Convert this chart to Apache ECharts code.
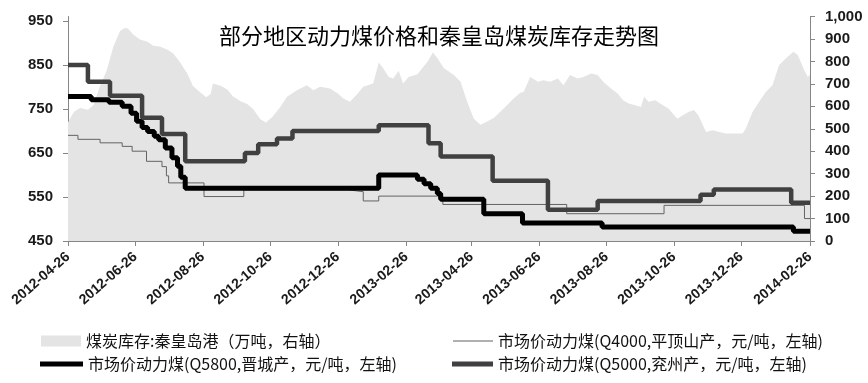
<!DOCTYPE html>
<html><head><meta charset="utf-8">
<script src="https://cdn.jsdelivr.net/npm/echarts@6/dist/echarts.min.js"></script>
<style>html,body{margin:0;padding:0;background:#fff}#c{width:868px;height:383px}</style>
</head><body><div id="c"></div>
<script>
const chartTitle = '部分地区动力煤价格和秦皇岛煤炭库存走势图';
const nameStock = '煤炭库存:秦皇岛港（万吨，右轴）';
const nameQ4000 = '市场价动力煤(Q4000,平顶山产，元/吨，左轴)';
const nameQ5800 = '市场价动力煤(Q5800,晋城产，元/吨，左轴)';
const nameQ5000 = '市场价动力煤(Q5000,兖州产，元/吨，左轴)';

const xTickDates = ['2012-04-26','2012-06-26','2012-08-26','2012-10-26','2012-12-26','2013-02-26',
  '2013-04-26','2013-06-26','2013-08-26','2013-10-26','2013-12-26','2014-02-26'];
const leftTicks = [450, 550, 650, 750, 850, 950];
const rightTicks = [0,100,200,300,400,500,600,700,800,900,1000];

const stockDates = ['2012-04-26','2012-04-30','2012-05-02','2012-05-07','2012-05-14','2012-05-19','2012-05-25','2012-05-31',
 '2012-06-06','2012-06-12','2012-06-16','2012-06-19','2012-06-24','2012-06-30','2012-07-07','2012-07-12','2012-07-18',
 '2012-07-25','2012-07-30','2012-08-05','2012-08-12','2012-08-17','2012-08-24','2012-08-29','2012-09-02','2012-09-04',
 '2012-09-11','2012-09-17','2012-09-22','2012-09-29','2012-10-05','2012-10-10','2012-10-17','2012-10-22','2012-10-28',
 '2012-11-04','2012-11-10','2012-11-19','2012-11-28','2012-12-04','2012-12-10','2012-12-19','2012-12-26','2012-12-31',
 '2013-01-06','2013-01-13','2013-01-18','2013-01-27','2013-02-01','2013-02-05','2013-02-10','2013-02-14','2013-02-19',
 '2013-02-23','2013-02-28','2013-03-08','2013-03-17','2013-03-22','2013-03-26','2013-04-01','2013-04-10','2013-04-16',
 '2013-04-22','2013-04-28','2013-05-04','2013-05-10','2013-05-16','2013-05-25','2013-06-03','2013-06-09','2013-06-12',
 '2013-06-18','2013-06-25','2013-06-30','2013-07-06','2013-07-13','2013-07-18','2013-07-24','2013-07-31','2013-08-05',
 '2013-08-12','2013-08-18','2013-08-23','2013-08-30','2013-09-05','2013-09-10','2013-09-15','2013-09-21','2013-09-26',
 '2013-09-29','2013-10-03','2013-10-09','2013-10-16','2013-10-21','2013-10-29','2013-11-03','2013-11-08','2013-11-13',
 '2013-11-17','2013-11-24','2013-11-30','2013-12-06','2013-12-12','2013-12-27','2013-12-30','2014-01-05','2014-01-11',
 '2014-01-17','2014-01-23','2014-01-29','2014-02-04','2014-02-11','2014-02-15','2014-02-20','2014-02-24','2014-02-26'];
const stockValues = [528,565,578,592,585,605,690,760,
 865,935,948,948,920,898,888,870,866,
 852,836,798,745,690,660,640,655,702,
 692,675,645,622,610,590,542,528,553,
 597,642,672,694,672,687,679,657,635,
 620,657,687,702,795,769,731,724,758,
 702,731,743,798,840,815,769,739,709,
 620,545,518,532,548,590,635,660,664,
 731,709,716,709,724,694,739,724,731,
 746,739,709,679,657,627,612,605,597,
 642,620,627,605,590,545,560,575,583,
 560,486,493,486,479,479,501,575,620,
 664,694,783,813,843,828,769,731,740];

const q4000Dates = ['2012-04-26','2012-05-05','2012-05-25','2012-06-14','2012-06-23','2012-07-06','2012-07-20','2012-07-24',
 '2012-07-26','2012-08-27','2012-10-02','2013-01-05','2013-01-18','2013-02-01','2013-03-31','2013-07-21','2013-10-17',
 '2014-02-21','2014-02-26'];
const q4000Values = [690,681,673,665,654,631,619,598,582,551,566,562,541,552,533,512,531,501,501];

const q5800Dates = ['2012-04-26','2012-05-17','2012-06-02','2012-06-14','2012-06-22','2012-06-27','2012-07-02','2012-07-07',
 '2012-07-13','2012-07-17','2012-07-23','2012-07-29','2012-08-03','2012-08-06','2012-08-10','2013-02-01','2013-03-08',
 '2013-03-14','2013-03-20','2013-03-26','2013-03-29','2013-05-07','2013-06-11','2013-08-22','2014-02-11','2014-02-26'];
const q5800Values = [778,771,765,756,740,722,708,699,688,680,661,639,620,595,570,600,590,580,570,558,545,512,491,482,472,472];

const q5000Dates = ['2012-04-26','2012-05-14','2012-06-03','2012-07-02','2012-07-20','2012-08-10','2012-10-03','2012-10-15',
 '2012-11-01','2012-11-15','2013-02-01','2013-03-18','2013-03-29','2013-05-15','2013-07-04','2013-08-18','2013-11-19',
 '2013-12-01','2014-02-09','2014-02-26'];
const q5000Values = [850,812,780,730,693,631,650,670,683,700,713,672,642,587,521,541,555,567,537,537];

// dates are placed on a linear day axis counted from the first date
const DAY = 86400000;
function utc(s){const p=s.split('-').map(Number);return Date.UTC(p[0],p[1]-1,p[2]);}
const t0 = utc(xTickDates[0]);
function dayOf(s){return Math.round((utc(s)-t0)/DAY);}
function pad(n){return n<10?'0'+n:''+n;}
function dateLabel(d){const t=new Date(t0+Math.round(d)*DAY);return t.getUTCFullYear()+'-'+pad(t.getUTCMonth()+1)+'-'+pad(t.getUTCDate());}
function zip(ds,vs){return ds.map((d,i)=>[dayOf(d),vs[i]]);}
const xTickDays = xTickDates.map(dayOf);

const axisGrey = '#868686';
const labelFont = {fontFamily:'Liberation Sans', fontWeight:'bold', color:'#1a1a1a'};
const legendText = {fontFamily:'Noto Sans CJK SC', fontSize:16, color:'#111'};

const chart = echarts.init(document.getElementById('c'), null, {renderer:'canvas'});
function mkLegend(name, left, top, w, h){
  return {data:[{name:name, icon:'rect'}], left:left, top:top, padding:0, itemWidth:w, itemHeight:h,
    itemGap:0, textStyle:legendText, itemStyle:{borderWidth:0}, selectedMode:false};
}
chart.setOption({
  animation:false,
  backgroundColor:'#fff',
  title:{text:chartTitle, left:219, top:25, padding:0,
    textStyle:{fontFamily:'Noto Sans CJK SC', fontSize:22, fontWeight:'normal', color:'#000'}},
  legend:[
    mkLegend(nameStock, 41, 333, 40, 11),
    mkLegend(nameQ4000, 453, 333, 40, 1),
    mkLegend(nameQ5800, 40, 356, 43, 5),
    mkLegend(nameQ5000, 452, 356, 41, 5)
  ],
  grid:{left:68, right:58, top:16.5, bottom:142, containLabel:false},
  xAxis:{type:'value', min:xTickDays[0], max:xTickDays[xTickDays.length-1],
    axisLine:{show:true, lineStyle:{color:axisGrey, width:1}},
    axisTick:{show:true, length:5, lineStyle:{color:axisGrey}, customValues:xTickDays},
    splitLine:{show:false},
    axisLabel:Object.assign({rotate:41, fontSize:14, margin:14, hideOverlap:false,
      customValues:xTickDays, formatter:dateLabel}, labelFont)
  },
  yAxis:[
    {type:'value', position:'left', min:450, max:960,
      axisLine:{show:true, lineStyle:{color:axisGrey}},
      axisTick:{show:true, length:5, lineStyle:{color:axisGrey}, customValues:leftTicks},
      axisLabel:Object.assign({fontSize:15, margin:15, customValues:leftTicks}, labelFont),
      splitLine:{show:false}},
    {type:'value', position:'right', min:0, max:1000, interval:100,
      axisLine:{show:true, lineStyle:{color:axisGrey}},
      axisTick:{show:true, length:5, lineStyle:{color:axisGrey}, customValues:rightTicks},
      axisLabel:Object.assign({fontSize:15, margin:15, customValues:rightTicks,
        formatter:function(v){return Number(v).toLocaleString('en-US');}}, labelFont),
      splitLine:{show:false}}
  ],
  series:[
    {name:nameStock, type:'line', yAxisIndex:1, data:zip(stockDates, stockValues), showSymbol:false, symbol:'none',
      lineStyle:{width:0, color:'#e4e4e4'}, itemStyle:{color:'#e4e4e4'}, areaStyle:{color:'#e4e4e4', opacity:1}, z:1, silent:true},
    {name:nameQ4000, type:'line', yAxisIndex:0, step:'end', data:zip(q4000Dates, q4000Values), showSymbol:false, symbol:'none',
      lineStyle:{width:1, color:'#636363'}, itemStyle:{color:'#636363'}, z:2},
    {name:nameQ5800, type:'line', yAxisIndex:0, step:'end', data:zip(q5800Dates, q5800Values), showSymbol:false, symbol:'none',
      lineStyle:{width:5, color:'#000000'}, itemStyle:{color:'#000000'}, z:3},
    {name:nameQ5000, type:'line', yAxisIndex:0, step:'end', data:zip(q5000Dates, q5000Values), showSymbol:false, symbol:'none',
      lineStyle:{width:4.5, color:'#404040'}, itemStyle:{color:'#404040'}, z:4}
  ]
});
</script>
</body></html>
